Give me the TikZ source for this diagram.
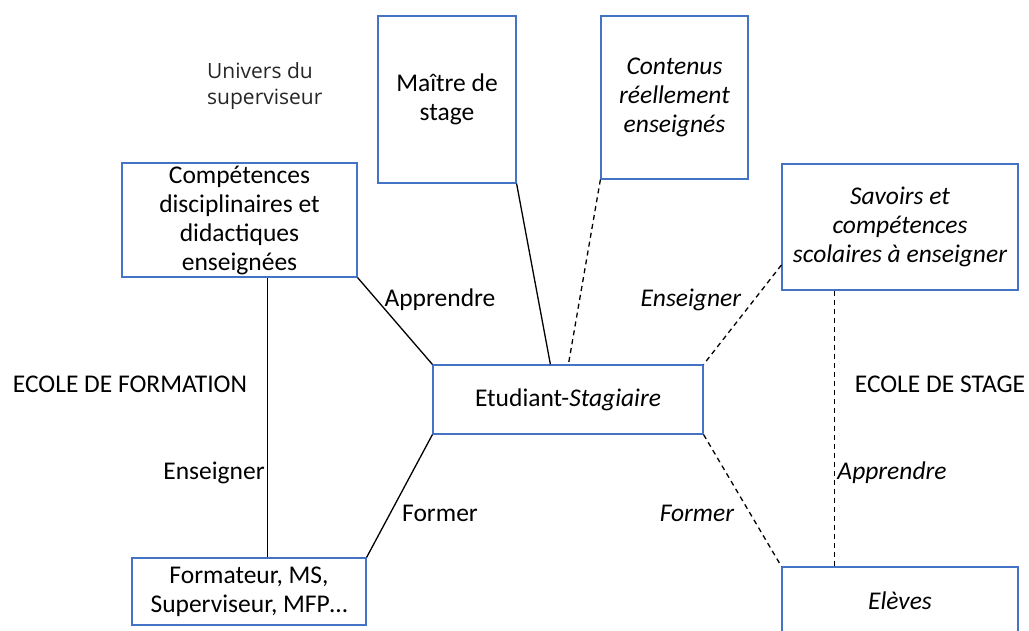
\documentclass[tikz,border=0pt]{standalone}
\usepackage{fontspec}
\setmainfont{Carlito}
\newfontfamily\lightfont{Open Sans}
\usetikzlibrary{calc}
\definecolor{boxblue}{HTML}{4472C4}

\begin{document}
\begin{tikzpicture}[x=1pt,y=-1pt,
    font=\fontsize{25.5}{29}\selectfont,
    box/.style={draw=boxblue,line width=1.2pt,inner sep=0pt,align=center},
    ibox/.style={box,font=\fontsize{25.5}{29}\selectfont\itshape},
    lbl/.style={inner sep=0pt,yshift=-2pt},
    link/.style={draw=black,line width=1.3pt},
    dlink/.style={link,dash pattern=on 5pt off 4pt}]
        \useasboundingbox[fill=white] (0,0) rectangle (1029,630);
        % boxes
        \node[box,minimum width=235,minimum height=114] (comp) at (239.5,220) {Compétences\\disciplinaires et\\didactiques\\enseignées};
        \node[box,minimum width=138,minimum height=167] (maitre) at (447,99.5) {Maître de\\stage};
        \node[ibox,minimum width=147,minimum height=163] (contenus) at (674.5,97.5) {Contenus\\réellement\\enseignés};
        \node[ibox,minimum width=236,minimum height=126] (savoirs) at (900,227) {Savoirs et\\compétences\\scolaires à enseigner};
        \node[box,minimum width=270,minimum height=69] (etud) at (568,399.5) {Etudiant-\textit{Stagiaire}};
        \node[box,minimum width=234,minimum height=67] (form) at (249,591.5) {Formateur, MS,\\Superviseur, MFP…};
        \node[ibox,minimum width=236,minimum height=68] (eleves) at (900,601) {Elèves};
        % labels
        \node[lbl,anchor=west,align=left,font=\lightfont\fontsize{21}{26}\selectfont,text=black!85] (univers) at (207,84) {Univers du\\superviseur};
        \node[lbl] (ecform) at (130,382) {ECOLE DE FORMATION};
        \node[lbl] (ecstage) at (940,382) {ECOLE DE STAGE};
        \node[lbl] (app1) at (440,298) {Apprendre};
        \node[lbl] (ens1) at (691,298) {\textit{Enseigner}};
        \node[lbl] (ens2) at (214,471) {Enseigner};
        \node[lbl] (for1) at (440,511) {Former};
        \node[lbl] (for2) at (697,511) {\textit{Former}};
        \node[lbl] (app2) at (892,471) {\textit{Apprendre}};
        % edges
        \draw[link] (comp.south east) -- (etud.north west);
        \draw[link] (maitre.south east) -- ([xshift=118pt]etud.north west);
        \draw[dlink] (contenus.south west) -- ([xshift=136pt]etud.north west);
        \draw[dlink] ([yshift=-38pt]savoirs.west) -- (etud.north east);
        \draw[dlink] ([xshift=53pt]savoirs.south west) -- ([xshift=53pt]eleves.north west);
        \draw[dlink] (etud.south east) -- (eleves.north west);
        \draw[link] (etud.south west) -- (form.north east);
        \draw[link] ([xshift=146pt]comp.south west) -- ([xshift=136pt]form.north west);
      \end{tikzpicture}
\end{document}
